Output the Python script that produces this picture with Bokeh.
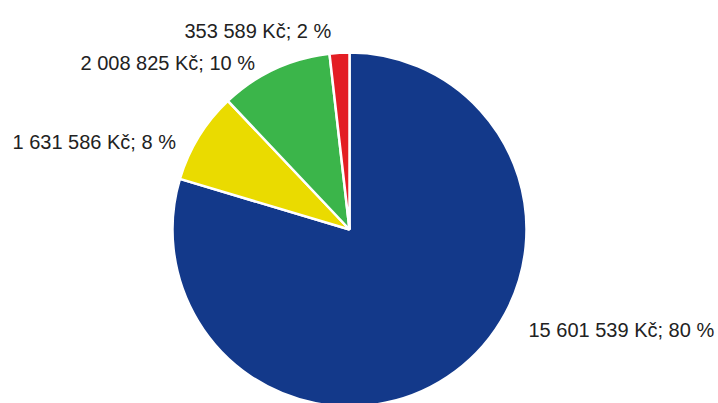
import math
from bokeh.plotting import figure
from bokeh.models import ColumnDataSource
from bokeh.core.properties import value
from bokeh.embed import file_html
from bokeh.resources import INLINE

# Data (clockwise from 12 o'clock)
categories = ["A", "B", "C", "D"]
amounts = [15601539, 1631586, 2008825, 353589]
colors = ["#13398A", "#EADB00", "#3BB54A", "#E31E24"]

# Label anchor positions (page pixels: left x, baseline y)
label_px = [(528, 329), (12, 141), (80, 62), (184, 30)]

W, H = 718, 403
OFF = 0
CX, CY, R = 349, 229, 177  # page pixel centre and radius


def to_data(X, Y):
    return X - OFF, (H + OFF) - Y


total = sum(amounts)
starts, ends, texts = [], [], []
a = math.pi / 2
for v in amounts:
    sweep = 2 * math.pi * v / total
    ends.append(a)
    starts.append(a - sweep)
    a -= sweep
    pct = round(100 * v / total)
    texts.append(f"{v:,}".replace(",", " ") + f" Kč; {pct} %")

cx, cy = to_data(CX, CY)
src = ColumnDataSource(dict(cat=categories, start=starts, end=ends, color=colors,
                            x=[cx] * 4, y=[cy] * 4))

p = figure(width=W, height=H, x_range=(0, W), y_range=(0, H),
           output_backend="svg", toolbar_location=None, min_border=0)
p.axis.visible = False
p.grid.visible = False
p.outline_line_color = None
p.background_fill_color = "white"

p.wedge(x="x", y="y", radius=R, radius_units="screen", start_angle="start", end_angle="end",
        fill_color="color", line_color="white", line_width=2.5, source=src)

lx, ly = zip(*[to_data(X, Y) for X, Y in label_px])
lsrc = ColumnDataSource(dict(x=list(lx), y=list(ly), t=texts))
p.text(x="x", y="y", text="t", source=lsrc, text_font=value("Liberation Sans"),
       text_font_size="20px", text_color="#222222", text_align="left",
       text_baseline="alphabetic")

open("out.html", "w").write(file_html(p, INLINE))
